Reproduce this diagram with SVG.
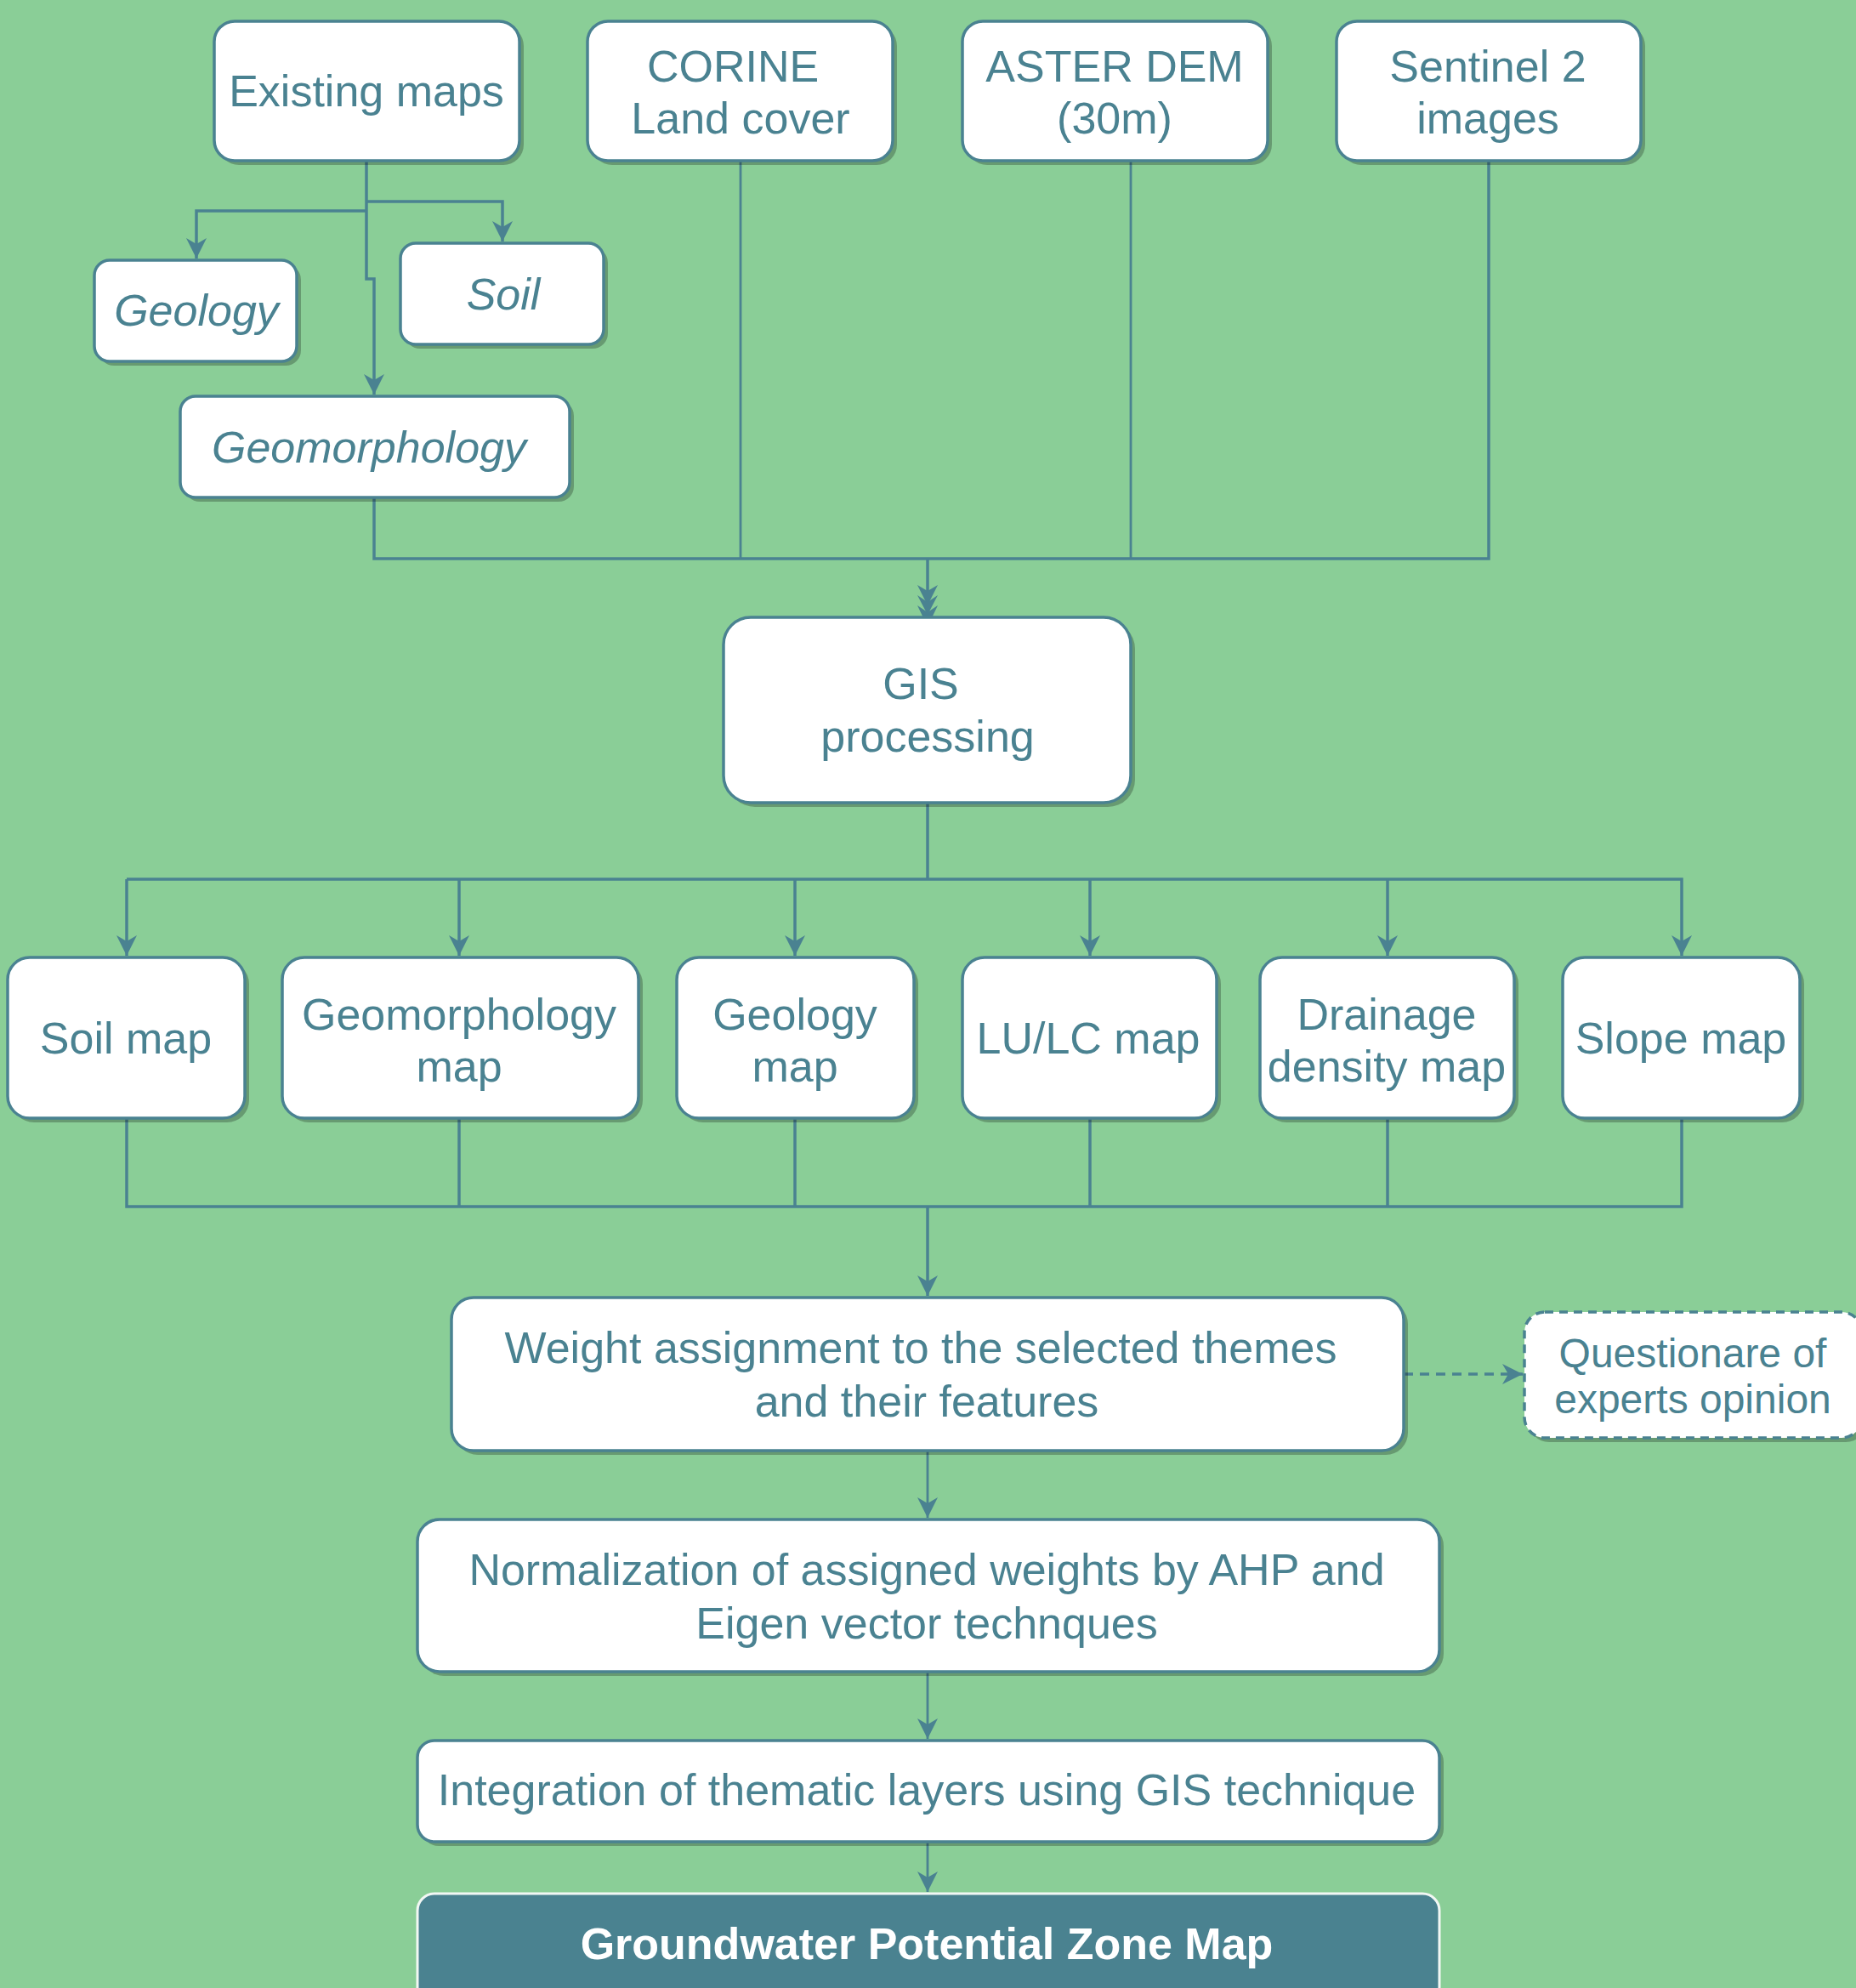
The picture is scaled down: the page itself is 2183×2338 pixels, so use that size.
<svg xmlns="http://www.w3.org/2000/svg" width="2183" height="2338" viewBox="0 0 2183 2338">
<defs>
<style>
.bx{fill:#fff;stroke:#4A8291;stroke-width:3.5}
.sh{fill:#000;opacity:.25}
.t{font-family:"Liberation Sans",Arial,sans-serif;font-size:52px;fill:#4A8291;text-anchor:middle}
.i{font-style:italic}
.c{fill:none;stroke:#4A8291;stroke-width:3.5}
.c2{fill:none;stroke:#4A8291;stroke-width:2.8}
</style>
<marker id="ar" markerWidth="26" markerHeight="26" refX="24" refY="13" orient="auto" markerUnits="userSpaceOnUse">
<path d="M0,1 L24,13 L0,25 L7,13 Z" fill="#4A8291"/>
</marker>
</defs>
<rect width="2183" height="2338" fill="#8ACE97"/>

<g id="connectors">
<path class="c" d="M431,189 V328 H440 V464" marker-end="url(#ar)"/>
<path class="c" d="M431,237 H591 V284" marker-end="url(#ar)"/>
<path class="c" d="M431,248 H231 V304" marker-end="url(#ar)"/>
<path class="c" d="M440,585 V657 H1751 V189"/>
<path class="c2" d="M871,189 V657"/>
<path class="c2" d="M1330,189 V657"/>
<path class="c" d="M1091,657 V712" marker-end="url(#ar)"/>
<path d="M1079,700 L1091,723 L1103,700 L1091,708 Z" fill="#4A8291"/>
<path d="M1079,712 L1091,737 L1103,712 L1091,720 Z" fill="#4A8291"/>
<path class="c" d="M1091,944 V1034"/>
<path class="c" d="M149,1034 H1978 V1124" marker-end="url(#ar)"/>
<path class="c" d="M149,1034 V1124" marker-end="url(#ar)"/>
<path class="c" d="M540,1034 V1124" marker-end="url(#ar)"/>
<path class="c" d="M935,1034 V1124" marker-end="url(#ar)"/>
<path class="c" d="M1282,1034 V1124" marker-end="url(#ar)"/>
<path class="c" d="M1632,1034 V1124" marker-end="url(#ar)"/>
<path class="c" d="M149,1315 V1419 H1978 V1315"/>
<path class="c" d="M540,1315 V1419"/>
<path class="c" d="M935,1315 V1419"/>
<path class="c" d="M1282,1315 V1419"/>
<path class="c" d="M1632,1315 V1419"/>
<path class="c" d="M1091,1419 V1524" marker-end="url(#ar)"/>
<path class="c" stroke-dasharray="11,8" d="M1651,1616 H1791" marker-end="url(#ar)"/>
<path class="c2" d="M1091,1706 V1785" marker-end="url(#ar)"/>
<path class="c2" d="M1091,1966 V2045" marker-end="url(#ar)"/>
<path class="c2" d="M1091,2166 V2225" marker-end="url(#ar)"/>
</g>

<g id="existing-maps">
<rect class="sh" x="257" y="30" width="359" height="164" rx="24"/>
<rect class="bx" x="252" y="25" width="359" height="164" rx="24"/>
<text class="t" x="431" y="125">Existing maps</text>
</g>
<g id="corine">
<rect class="sh" x="696" y="30" width="359" height="164" rx="24"/>
<rect class="bx" x="691" y="25" width="359" height="164" rx="24"/>
<text class="t" x="862" y="96">CORINE</text>
<text class="t" x="871" y="157">Land cover</text>
</g>
<g id="aster-dem">
<rect class="sh" x="1137" y="30" width="359" height="164" rx="24"/>
<rect class="bx" x="1132" y="25" width="359" height="164" rx="24"/>
<text class="t" x="1311" y="96">ASTER DEM</text>
<text class="t" x="1311" y="157">(30m)</text>
</g>
<g id="sentinel">
<rect class="sh" x="1577" y="30" width="358" height="164" rx="24"/>
<rect class="bx" x="1572" y="25" width="358" height="164" rx="24"/>
<text class="t" x="1750" y="96">Sentinel 2</text>
<text class="t" x="1750" y="157">images</text>
</g>
<g id="geology-existing">
<rect class="sh" x="116" y="311" width="238" height="119" rx="18"/>
<rect class="bx" x="111" y="306" width="238" height="119" rx="18"/>
<text class="t i" x="231" y="383">Geology</text>
</g>
<g id="soil-existing">
<rect class="sh" x="476" y="291" width="239" height="119" rx="18"/>
<rect class="bx" x="471" y="286" width="239" height="119" rx="18"/>
<text class="t i" x="592" y="364">Soil</text>
</g>
<g id="geomorphology-existing">
<rect class="sh" x="217" y="471" width="458" height="119" rx="18"/>
<rect class="bx" x="212" y="466" width="458" height="119" rx="18"/>
<text class="t i" x="434" y="544">Geomorphology</text>
</g>
<g id="gis-processing">
<rect class="sh" x="856" y="731" width="479" height="218" rx="32"/>
<rect class="bx" x="851" y="726" width="479" height="218" rx="32"/>
<text class="t" x="1083" y="822">GIS</text>
<text class="t" x="1091" y="884">processing</text>
</g>
<g id="soil-map">
<rect class="sh" x="14" y="1131" width="279" height="189" rx="26"/>
<rect class="bx" x="9" y="1126" width="279" height="189" rx="26"/>
<text class="t" x="148" y="1239">Soil map</text>
</g>
<g id="geomorphology-map">
<rect class="sh" x="337" y="1131" width="419" height="189" rx="26"/>
<rect class="bx" x="332" y="1126" width="419" height="189" rx="26"/>
<text class="t" x="540" y="1211">Geomorphology</text>
<text class="t" x="540" y="1272">map</text>
</g>
<g id="geology-map">
<rect class="sh" x="801" y="1131" width="279" height="189" rx="26"/>
<rect class="bx" x="796" y="1126" width="279" height="189" rx="26"/>
<text class="t" x="935" y="1211">Geology</text>
<text class="t" x="935" y="1272">map</text>
</g>
<g id="lulc-map">
<rect class="sh" x="1137" y="1131" width="299" height="189" rx="26"/>
<rect class="bx" x="1132" y="1126" width="299" height="189" rx="26"/>
<text class="t" x="1280" y="1239">LU/LC map</text>
</g>
<g id="drainage-map">
<rect class="sh" x="1487" y="1131" width="299" height="189" rx="26"/>
<rect class="bx" x="1482" y="1126" width="299" height="189" rx="26"/>
<text class="t" x="1631" y="1211">Drainage</text>
<text class="t" x="1631" y="1272">density map</text>
</g>
<g id="slope-map">
<rect class="sh" x="1843" y="1131" width="279" height="189" rx="26"/>
<rect class="bx" x="1838" y="1126" width="279" height="189" rx="26"/>
<text class="t" x="1977" y="1239">Slope map</text>
</g>
<g id="weight-assignment">
<rect class="sh" x="536" y="1531" width="1120" height="180" rx="26"/>
<rect class="bx" x="531" y="1526" width="1120" height="180" rx="26"/>
<text class="t" x="1083" y="1603">Weight assignment to the selected themes</text>
<text class="t" x="1090" y="1666">and their features</text>
</g>
<g id="questionare">
<rect class="sh" x="1798" y="1548" width="397" height="148" rx="24"/>
<rect class="bx" x="1793" y="1543" width="397" height="148" rx="24" stroke-dasharray="10,7"/>
<text class="t" x="1991" y="1608" style="font-size:48px">Questionare of</text>
<text class="t" x="1991" y="1662" style="font-size:48px">experts opinion</text>
</g>
<g id="normalization">
<rect class="sh" x="496" y="1792" width="1202" height="179" rx="26"/>
<rect class="bx" x="491" y="1787" width="1202" height="179" rx="26"/>
<text class="t" x="1090" y="1864">Normalization of assigned weights by AHP and</text>
<text class="t" x="1090" y="1927">Eigen vector technques</text>
</g>
<g id="integration">
<rect class="sh" x="496" y="2052" width="1202" height="119" rx="20"/>
<rect class="bx" x="491" y="2047" width="1202" height="119" rx="20"/>
<text class="t" x="1090" y="2123">Integration of thematic layers using GIS technique</text>
</g>
<g id="groundwater">
<rect x="491" y="2227" width="1202" height="130" rx="20" fill="#4A8290" stroke="#F2F7F4" stroke-width="3"/>
<text class="t" x="1090" y="2304" style="font-weight:bold;fill:#fff">Groundwater Potential Zone Map</text>
</g>
</svg>
